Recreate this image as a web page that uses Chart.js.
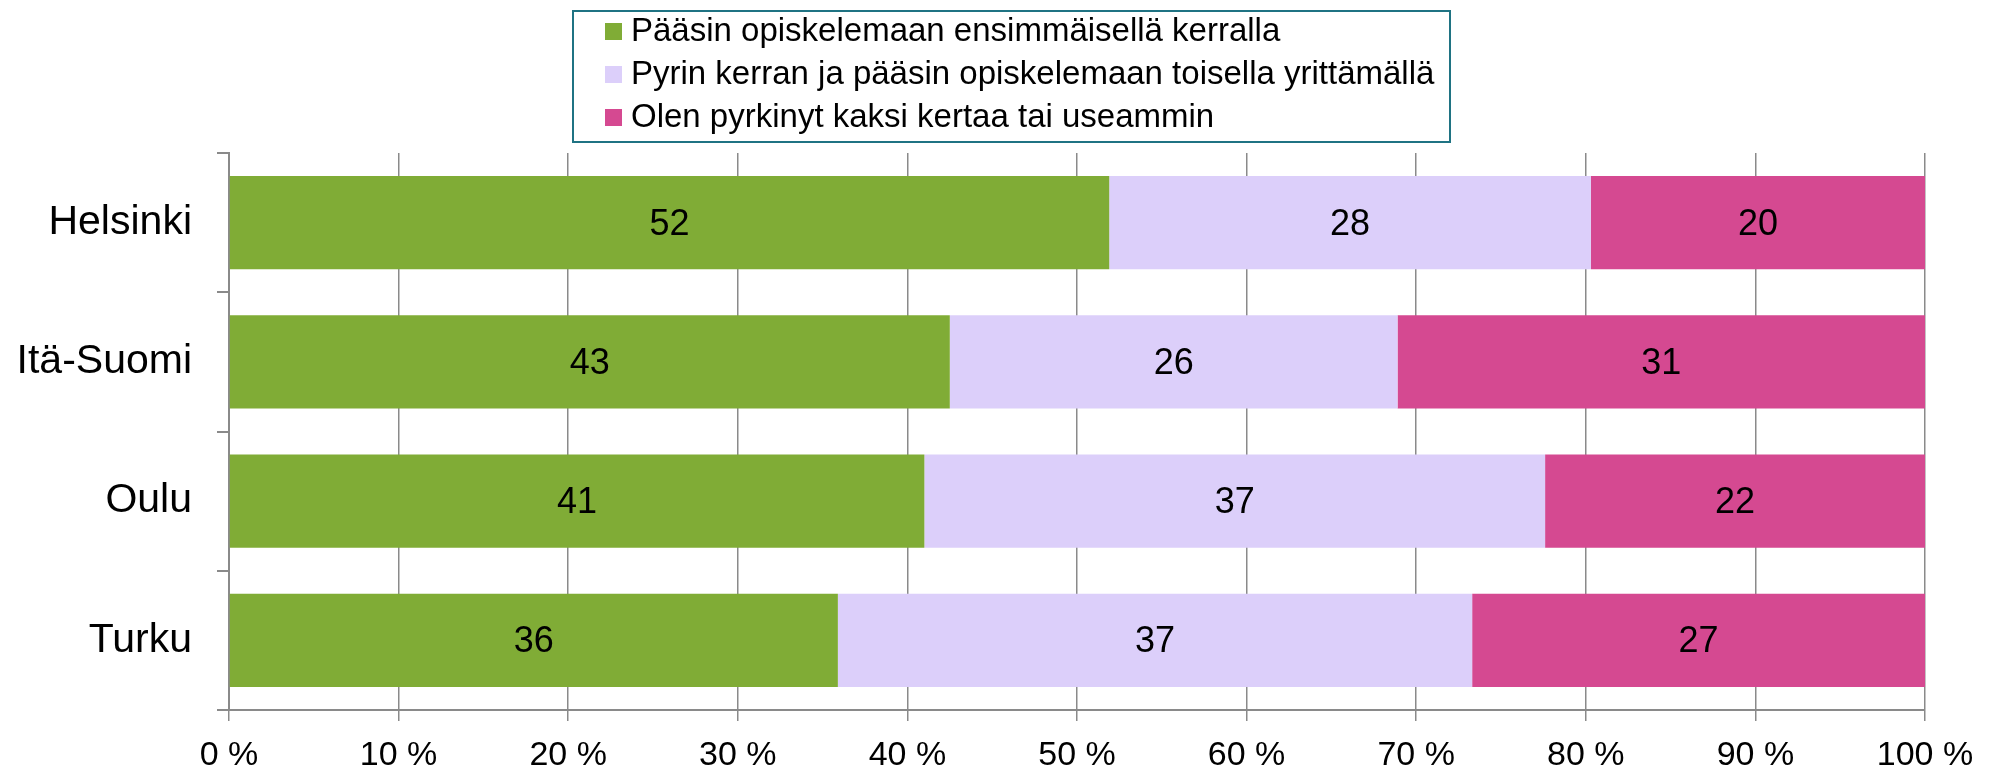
<!DOCTYPE html>
<html>
<head>
<meta charset="utf-8">
<script src="https://cdn.jsdelivr.net/npm/chart.js@4.4.1/dist/chart.umd.min.js"></script>
<style>
    html, body { margin: 0; padding: 0; background: #fff; }
    #wrap { width: 1999px; height: 773px; position: relative; }
</style>
</head>
<body>
<div id="wrap"><canvas id="chart"></canvas></div>
<script>
// Data (shares in %)
const categories = ['Helsinki', 'Itä-Suomi', 'Oulu', 'Turku'];
const seriesNames = [
    'Pääsin opiskelemaan ensimmäisellä kerralla',
    'Pyrin kerran ja pääsin opiskelemaan toisella yrittämällä',
    'Olen pyrkinyt kaksi kertaa tai useammin'
];
const firstTry = [51.9, 42.5, 41.0, 35.9];
const secondTry = [28.4, 26.4, 36.6, 37.4];
const severalTries = [19.7, 31.1, 22.4, 26.7];
const xTicks = [0, 10, 20, 30, 40, 50, 60, 70, 80, 90, 100];

const colors = ['#80ac36', '#dccffa', '#d54991'];
const fontFamily = '"Liberation Sans", Arial, sans-serif';

// value labels in the middle of each bar segment
const valueLabels = {
    id: 'valueLabels',
    afterDatasetsDraw(chart) {
        const ctx = chart.ctx;
        ctx.save();
        ctx.font = '36px ' + fontFamily;
        ctx.fillStyle = '#000';
        ctx.textAlign = 'center';
        ctx.textBaseline = 'middle';
        chart.data.datasets.forEach(function(ds, i) {
            chart.getDatasetMeta(i).data.forEach(function(bar, j) {
                const x = (bar.x + bar.base) / 2;
                ctx.fillText(Math.round(ds.data[j]), x, bar.y + 2);
            });
        });
        ctx.restore();
    }
};

// boxed legend, one series per row
const boxLegend = {
    id: 'boxLegend',
    afterDraw(chart) {
        const ctx = chart.ctx;
        ctx.save();
        ctx.strokeStyle = '#1f7383';
        ctx.lineWidth = 2;
        ctx.strokeRect(573, 11, 877, 131);
        ctx.font = '33px ' + fontFamily;
        ctx.textBaseline = 'alphabetic';
        chart.data.datasets.forEach(function(ds, i) {
            const y = 41 + i * 43;
            ctx.fillStyle = ds.backgroundColor;
            ctx.fillRect(605, y - 18, 17, 17);
            ctx.fillStyle = '#000';
            ctx.fillText(ds.label, 631, y);
        });
        ctx.restore();
    }
};

const ctx = document.getElementById('chart').getContext('2d');
const chart = new Chart(ctx, {
    type: 'bar',
    data: {
        labels: categories,
        datasets: [
            { label: seriesNames[0], data: firstTry, backgroundColor: colors[0] },
            { label: seriesNames[1], data: secondTry, backgroundColor: colors[1] },
            { label: seriesNames[2], data: severalTries, backgroundColor: colors[2] }
        ]
    },
    options: {
        indexAxis: 'y',
        responsive: true,
        maintainAspectRatio: false,
        animation: false,
        datasets: {
            bar: { categoryPercentage: 1, barPercentage: 0.67, borderWidth: 0 }
        },
        layout: { padding: { top: 153, right: 74, left: 0, bottom: 0 } },
        plugins: {
            legend: { display: false },
            tooltip: { enabled: false }
        },
        scales: {
            x: {
                stacked: true,
                min: 0,
                max: 100,
                afterBuildTicks: function(scale) {
                    scale.ticks = xTicks.map(function(v) { return { value: v }; });
                },
                afterFit: function(scale) { scale.height = 63; },
                grid: { color: '#8a8a8a', lineWidth: 1.5, tickLength: 11 },
                border: { color: '#8a8a8a', width: 2 },
                ticks: {
                    color: '#000',
                    padding: 14,
                    font: { family: fontFamily, size: 34 },
                    callback: function(v) { return v + ' %'; }
                }
            },
            y: {
                stacked: true,
                afterFit: function(scale) { scale.width = 229; },
                grid: { offset: true, drawOnChartArea: false, color: '#8a8a8a', lineWidth: 2, tickLength: 12 },
                border: { color: '#8a8a8a', width: 2 },
                ticks: {
                    color: '#000',
                    padding: 25,
                    font: { family: fontFamily, size: 41 }
                }
            }
        }
    },
    plugins: [valueLabels, boxLegend]
});
</script>
</body>
</html>
